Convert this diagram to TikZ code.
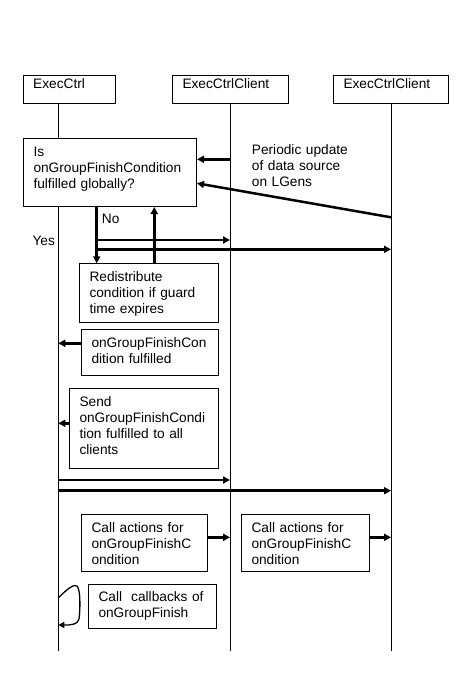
\documentclass[tikz,border=0pt]{standalone}
\usepackage{fontspec}
\setmainfont{Liberation Sans}
\usetikzlibrary{arrows.meta}

\begin{document}
\begin{tikzpicture}[
  x=1pt, y=-1pt,
  font=\fontsize{13.7}{16}\selectfont,
  every node/.style={align=left},
  head/.style={draw,fill=white,line width=1pt,anchor=north west,inner xsep=9.7pt,inner ysep=0pt,text height=12.7pt,text depth=15pt},
  actbox/.style={draw,fill=white,line width=1pt,anchor=north west,inner xsep=9.7pt,inner ysep=0pt,text height=18pt},
  lbl/.style={anchor=base west,inner sep=0pt},
  life/.style={line width=1pt},
  msg/.style={-{Triangle[length=7pt,width=7pt]},line width=2.5pt},
  self/.style={-{Triangle[length=6pt,width=6pt]},line width=1.3pt},
]
\useasboundingbox (0,0) rectangle (464,682);

% ---- Lifelines
\coordinate (LA) at (58.3,650.7);
\coordinate (LB) at (230,650.7);
\coordinate (LC) at (391,650.7);

% ---- Headers
\node[head,text width=72.6pt] (Hctrl) at (23,75) {ExecCtrl};
\node[head,text width=96.6pt] (Hcli1) at (172.3,75) {ExecCtrlClient};
\node[head,text width=95.6pt] (Hcli2) at (333.3,75) {ExecCtrlClient};

\draw[life] (Hctrl.south -| LA) -- (LA);
\draw[life] (Hcli1.south -| LB) -- (LB);
\draw[life] (Hcli2.south -| LC) -- (LC);

% ---- Activities on ExecCtrl
\node[actbox,text width=153.3pt,text height=18.3pt,text depth=50pt] (Q) at (23.3,137.7)
  {Is\\onGroupFinishCondition\\fulfilled globally?};
\node[actbox,text width=119.6pt,text depth=41pt] (R) at (79.3,263.3)
  {Redistribute\\condition if guard\\time expires};
\node[actbox,text width=117.6pt,text depth=28pt] (F) at (81.3,329.3)
  {onGroupFinishCon\\dition fulfilled};
\node[actbox,text width=129.6pt,text depth=62pt] (S) at (69.3,388.3)
  {Send\\onGroupFinishCondi\\tion fulfilled to all\\clients};
\node[actbox,text width=106.6pt,text depth=39pt] (A1) at (81.3,514.3)
  {Call actions for\\onGroupFinishC\\ondition};
\node[actbox,text width=107.9pt,text depth=39pt] (A2) at (241.3,514.3)
  {Call actions for\\onGroupFinishC\\ondition};
\node[actbox,text width=107.9pt,text height=17pt,text depth=27.6pt] (K) at (88.3,583.7)
  {Call\ \ callbacks of\\onGroupFinish};

% ---- Labels
\node[lbl,text width=110pt] (upd) at (251.7,154.3) {Periodic update\\of data source\\on LGens};
\node[lbl] (no) at (101.7,223) {No};
\node[lbl] (yes) at (32.3,245.7) {Yes};

% ---- Data source updates
\draw[msg] (LB |- 0,159.3) -- (Q.east |- 0,159.3);
\draw[msg] (LC |- 0,217.3) -- (Q.east |- 0,183.3);

% ---- Decision
\coordinate (fork) at (96.7,240);
\draw[msg] (Q.south -| fork) -- (R.north -| fork);
\draw[msg] (R.north -| 154.3,0) -- (Q.south -| 154.3,0);
\draw[msg] (fork) -- (LB |- fork);
\draw[msg] (fork |- 0,249.3) -- (LC |- 0,249.3);

% ---- Fulfilled
\draw[msg] (F.west |- 0,343.3) -- (LA |- 0,343.3);
\draw[msg] (S.west |- 0,423.3) -- (LA |- 0,423.3);
\draw[msg] (LA |- 0,480) -- (LB |- 0,480);
\draw[msg] (LA |- 0,490.7) -- (LC |- 0,490.7);

% ---- Actions
\draw[msg] (A1.east |- 0,537.3) -- (LB |- 0,537.3);
\draw[msg] (A2.east |- 0,537.3) -- (LC |- 0,537.3);
\draw[self] (LA |- 0,598) .. controls (68,588) and (74,584) .. (77,586)
  .. controls (81,590) and (80,612) .. (79,619)
  .. controls (78,625) and (70,625) .. (LA |- 0,625);

\end{tikzpicture}
\end{document}
